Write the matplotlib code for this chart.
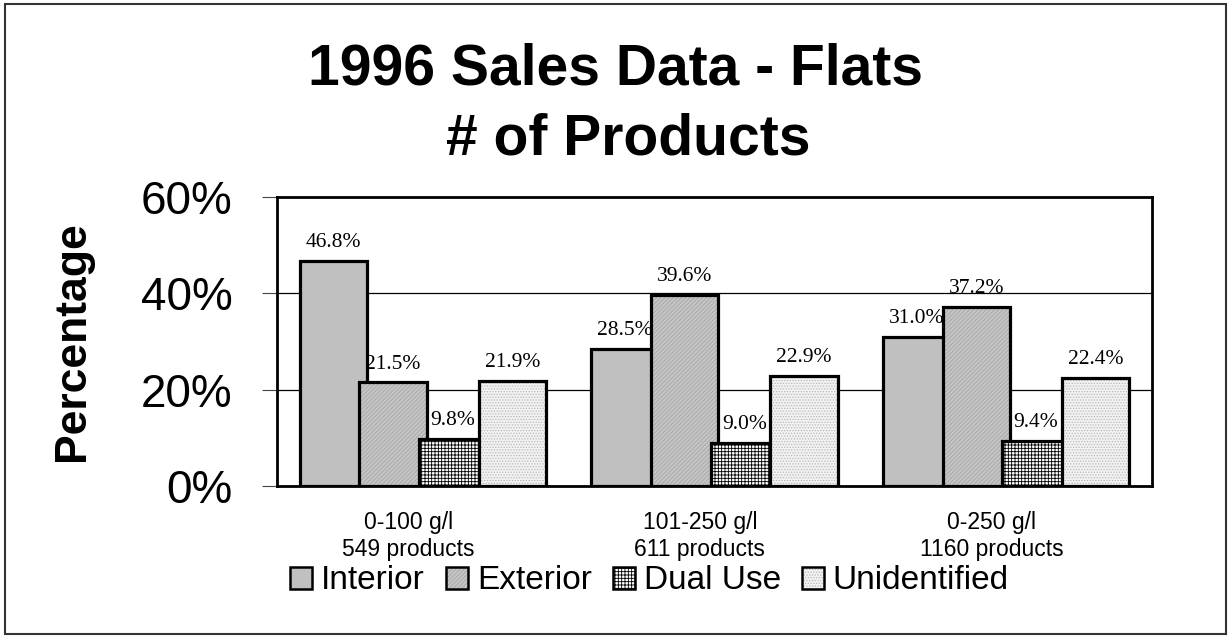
import matplotlib
matplotlib.use("Agg")
import matplotlib.pyplot as plt
import numpy as np
from matplotlib.patches import Patch, Rectangle
from matplotlib.legend_handler import HandlerTuple

plt.rcParams["font.family"] = ["Liberation Sans", "DejaVu Sans"]
plt.rcParams["hatch.linewidth"] = 0.6

categories = ["0-100 g/l\n549 products", "101-250 g/l\n611 products", "0-250 g/l\n1160 products"]
series = ["Interior", "Exterior", "Dual Use", "Unidentified"]
values = {
    "Interior": [46.8, 28.5, 31.0],
    "Exterior": [21.5, 39.6, 37.2],
    "Dual Use": [9.8, 9.0, 9.4],
    "Unidentified": [21.9, 22.9, 22.4],
}
yticks = [0, 20, 40, 60]

# face colour, hatch, hatch colour
styles = {
    "Interior": ("#c0c0c0", None, "#c0c0c0"),
    "Exterior": ("#c6c6c6", "////////", "#a4a4a4"),
    "Dual Use": ("#ffffff", "+++++", "#000000"),
    "Unidentified": ("#f2f2f2", "......", "#b8b8b8"),
}

fig = plt.figure(figsize=(12.31, 6.37), dpi=100)
ax = fig.add_axes([0.225, 0.237, 0.7108, 0.4537])

x = np.arange(len(categories)) + 0.5
width = 0.23
step = 0.2046

handles = []
for i, name in enumerate(series):
    face, hatch, hcol = styles[name]
    pos = x + (i - 1.5) * step
    ax.bar(pos, values[name], width, color=face, edgecolor=hcol, hatch=hatch,
           lw=0, zorder=3 + 2 * i)
    ax.bar(pos, values[name], width, fill=False, edgecolor="black", lw=2.3,
           zorder=4 + 2 * i)
    for px, v in zip(pos, values[name]):
        ax.annotate(f"{v:.1f}%", (px, v), xytext=(0, 10), textcoords="offset points",
                    ha="center", va="baseline", fontsize=15.5,
                    family="Liberation Serif", zorder=20)
    handles.append((Patch(facecolor=face, edgecolor=hcol, hatch=hatch, lw=0),
                    Patch(fill=False, edgecolor="black", lw=1.8)))

ax.set_xlim(0, 3)
ax.set_ylim(0, 60)
ax.set_yticks(yticks)
ax.set_yticklabels([f"{t}%" for t in yticks], fontsize=33)
ax.tick_params(axis="y", length=11, width=0.8, pad=21, color="#444444")
ax.set_xticks(x - 0.05)
ax.set_xticklabels(categories, fontsize=16.5, linespacing=1.2)
ax.tick_params(axis="x", length=0, pad=18)
ax.yaxis.grid(True, color="black", lw=0.9)
ax.set_axisbelow(True)
for sp in ax.spines.values():
    sp.set_linewidth(2)

fig.text(0.5, 0.8666, "1996 Sales Data - Flats", ha="center", va="baseline",
         fontsize=41, fontweight="bold")
fig.text(0.51, 0.7567, "# of Products", ha="center", va="baseline",
         fontsize=41, fontweight="bold")
fig.text(0.0589, 0.4637, "Percentage", rotation=90, ha="center", va="center",
         fontsize=32, fontweight="bold")

fig.legend(handles, series, handler_map={tuple: HandlerTuple(ndivide=1)},
           loc="center", bbox_to_anchor=(0.5276, 0.088), ncol=4, frameon=False,
           fontsize=24, handlelength=0.66, handleheight=0.66,
           handletextpad=0.27, columnspacing=0.63, borderpad=0)

fig.patches.append(Rectangle((0.004, 0.005), 0.992, 0.988, transform=fig.transFigure,
                             fill=False, edgecolor="#333333", lw=1.5))

fig.savefig("out.png", dpi=100)
